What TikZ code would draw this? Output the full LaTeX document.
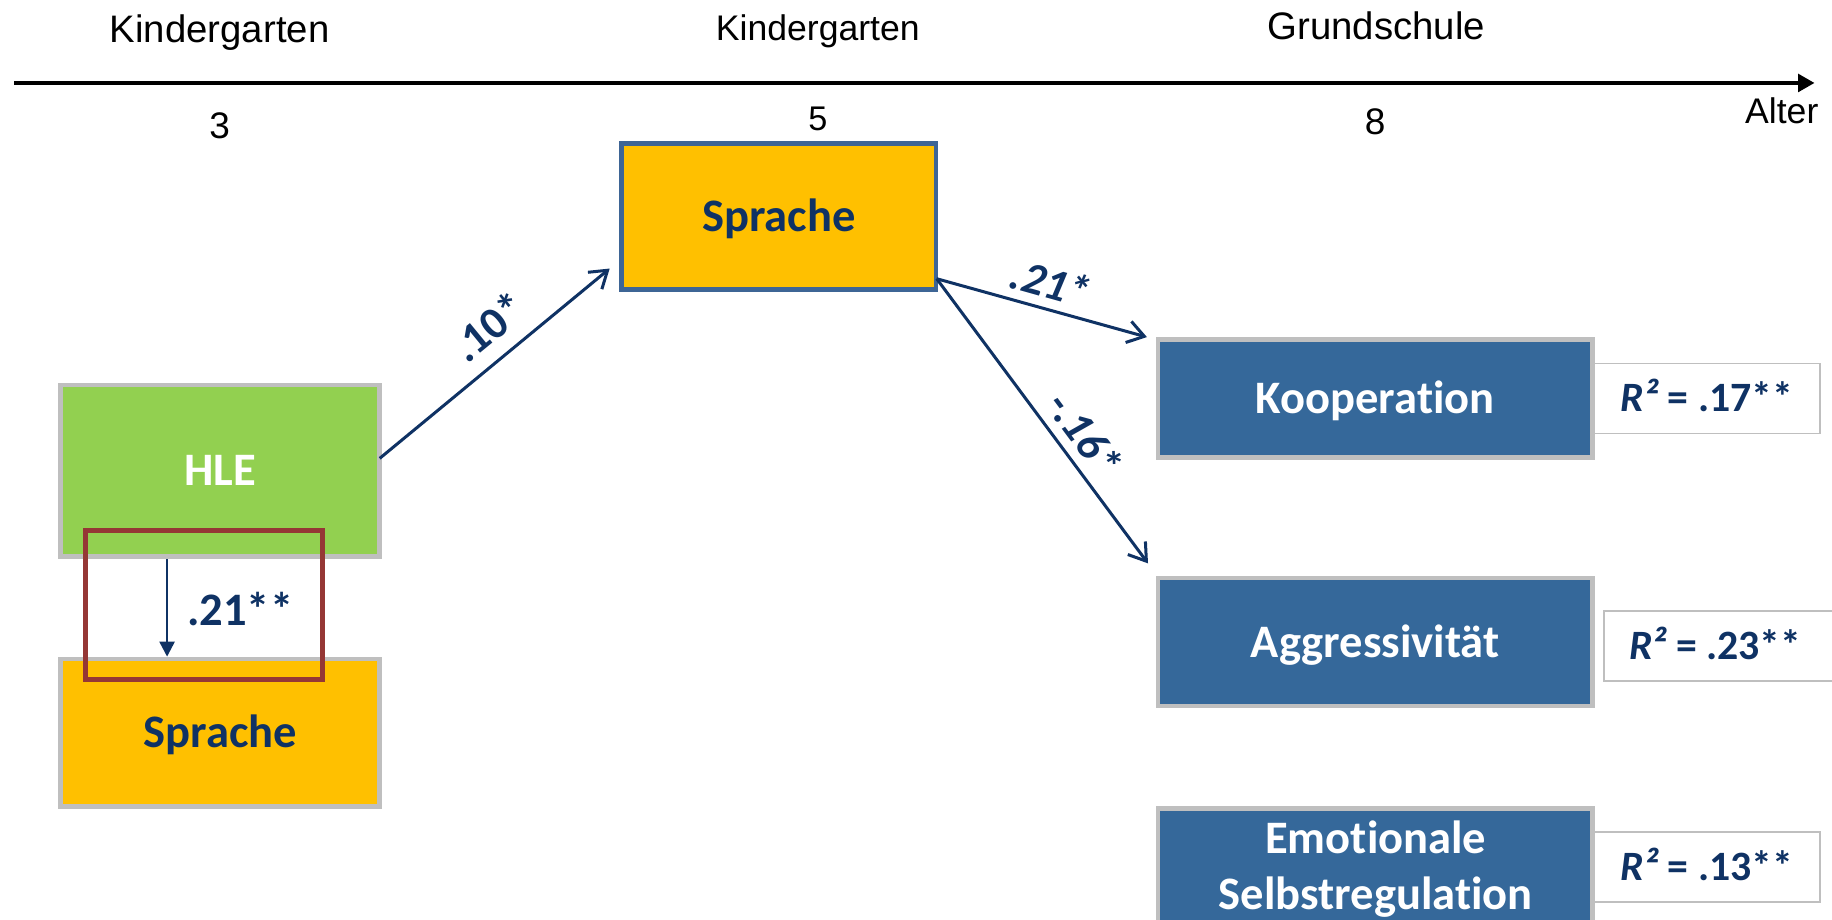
\documentclass[tikz,border=0pt]{standalone}
\usepackage{fontspec}
\setmainfont{Liberation Sans}
\newfontfamily\calib[Ligatures=NoCommon]{Carlito}
\usetikzlibrary{arrows.meta,calc}
\definecolor{mynavy}{HTML}{0F3264}
\definecolor{boxblue}{HTML}{35689A}
\definecolor{boxgray}{HTML}{BFBFBF}
\definecolor{myyellow}{HTML}{FFC000}
\definecolor{mygreen}{HTML}{92D050}
\definecolor{myred}{HTML}{953735}
\definecolor{sprborder}{HTML}{3E6595}
\begin{document}
\begin{tikzpicture}[x=0.3mm,y=-0.3mm,
  hdr/.style={anchor=base,text=black,inner sep=0pt},
  boxbase/.style={draw,line width=3.4pt,inner sep=0pt,font=\calib\bfseries\fontsize{34}{40}\selectfont,text height=21.9pt,text depth=0pt},
  hlebox/.style={boxbase,draw=boxgray,fill=mygreen,text=white},
  sprbox/.style={boxbase,draw=boxgray,fill=myyellow,text=mynavy},
  sprtop/.style={boxbase,draw=sprborder,fill=myyellow,text=mynavy},
  outbox/.style={boxbase,draw=boxgray,fill=boxblue,text=white},
  rbox/.style={draw=boxgray,line width=1.2pt,fill=white,inner sep=0pt,text=mynavy,font=\calib\bfseries\fontsize{30.5}{36}\selectfont,text height=19.6pt,text depth=0pt,minimum width=57.9mm,minimum height=18mm},
  outtxt/.style={anchor=base,inner sep=0pt,text=white,font=\calib\bfseries\fontsize{34}{40}\selectfont},
  conn/.style={draw=mynavy,line width=2.2pt,-{Straight Barb[length=12pt,width=16pt]}},
  lbl/.style={inner sep=0pt,text=mynavy,font=\calib\bfseries\fontsize{33}{38}\selectfont},
  hilite/.style={draw=myred,line width=3.6pt,inner sep=0pt,minimum width=60.8mm,minimum height=38.1mm}
]
\useasboundingbox (0,0) rectangle (1568,787);
\clip (0,0) rectangle (1568,787);

% timeline
\coordinate (tl0) at (12,71);
\coordinate (tl1) at (1553,71);
\draw[line width=2.4pt,-{Triangle[length=12pt,width=13pt]}] (tl0) -- (tl1);

\node[hdr,font=\fontsize{28}{32}\selectfont] (k1) at (188,36.5) {Kindergarten};
\node[hdr,font=\fontsize{26}{30}\selectfont] (k2) at (700,35) {Kindergarten};
\node[hdr,font=\fontsize{28}{32}\selectfont] (gs) at (1178,33.7) {Grundschule};
\node[hdr,font=\fontsize{27}{32}\selectfont] (n3) at (188,118.4) {3};
\node[hdr,font=\fontsize{25}{30}\selectfont] (n5) at (700,111.8) {5};
\node[hdr,font=\fontsize{27}{32}\selectfont] (n8) at (1177,115.5) {8};
\node[hdr,font=\fontsize{26}{30}\selectfont] (alter) at (1525,106) {Alter};

% R^2 boxes (behind)
\node[rbox] (r1) at (1461,341) {{\itshape R²} = .17**};
\node[rbox,minimum width=60mm] (r2) at (1473,553) {\hspace*{-3mm}{\itshape R²} = .23**};
\node[rbox] (r3) at (1461,742.2) {{\itshape R²} = .13**};

% boxes
\node[hlebox,minimum width=81.9mm,minimum height=44.1mm] (hle) at (188.5,403) {HLE};
\node[sprbox,minimum width=81.9mm,minimum height=37.8mm] (spr1) at (188.5,627) {Sprache};
\node[sprtop,minimum width=80.7mm,minimum height=37.65mm] (spr2) at (666.5,185.3) {Sprache};
\node[outbox,minimum width=111.5mm,minimum height=30.3mm] (koop) at (1177,341) {Kooperation};
\node[outbox,minimum width=111.5mm,minimum height=32.9mm] (agg) at (1177,549.5) {Aggressivität};
\node[outbox,minimum width=111.5mm,minimum height=33mm] (emo) at (1177,746.8) {};
\node[outtxt] (emo1) at (1177.5,730.8) {Emotionale};
\node[outtxt] (emo2) at (1177.5,778) {Selbstregulation};

% highlight and vertical arrow
\node[hilite] (hl) at (174.75,517.8) {};
\coordinate (ax) at (143,0);
\draw[draw=mynavy,line width=1.8pt,-{Triangle[length=11pt,width=11pt]}] (hle.south -| ax) -- (spr1.north -| ax);
\node[inner sep=0pt,anchor=base,text=mynavy,font=\calib\bfseries\fontsize{34}{40}\selectfont] (l0) at (205.7,535) {.21**};

% connectors
\draw[conn] ($(hle.east)+(-2,-10.7)$) -- ($(spr2.south west)+(-8.2,-20.2)$);
\draw[conn] ($(spr2.south east)+(-1.3,-11.5)$) -- ($(koop.north west)+(-7.5,0)$);
\draw[conn] ($(spr2.south east)+(-1.3,-11.5)$) -- ($(agg.north west)+(-6.6,-10.5)$);

\node[lbl,rotate=39.4] (l1) at (418,279.6) {.10*};
\node[lbl,rotate=-15.7] (l2) at (899.4,241.8) {\itshape .21*};
\node[lbl,rotate=-53.4] (l3) at (928.6,371) {\itshape -.16*};
\end{tikzpicture}
\end{document}
